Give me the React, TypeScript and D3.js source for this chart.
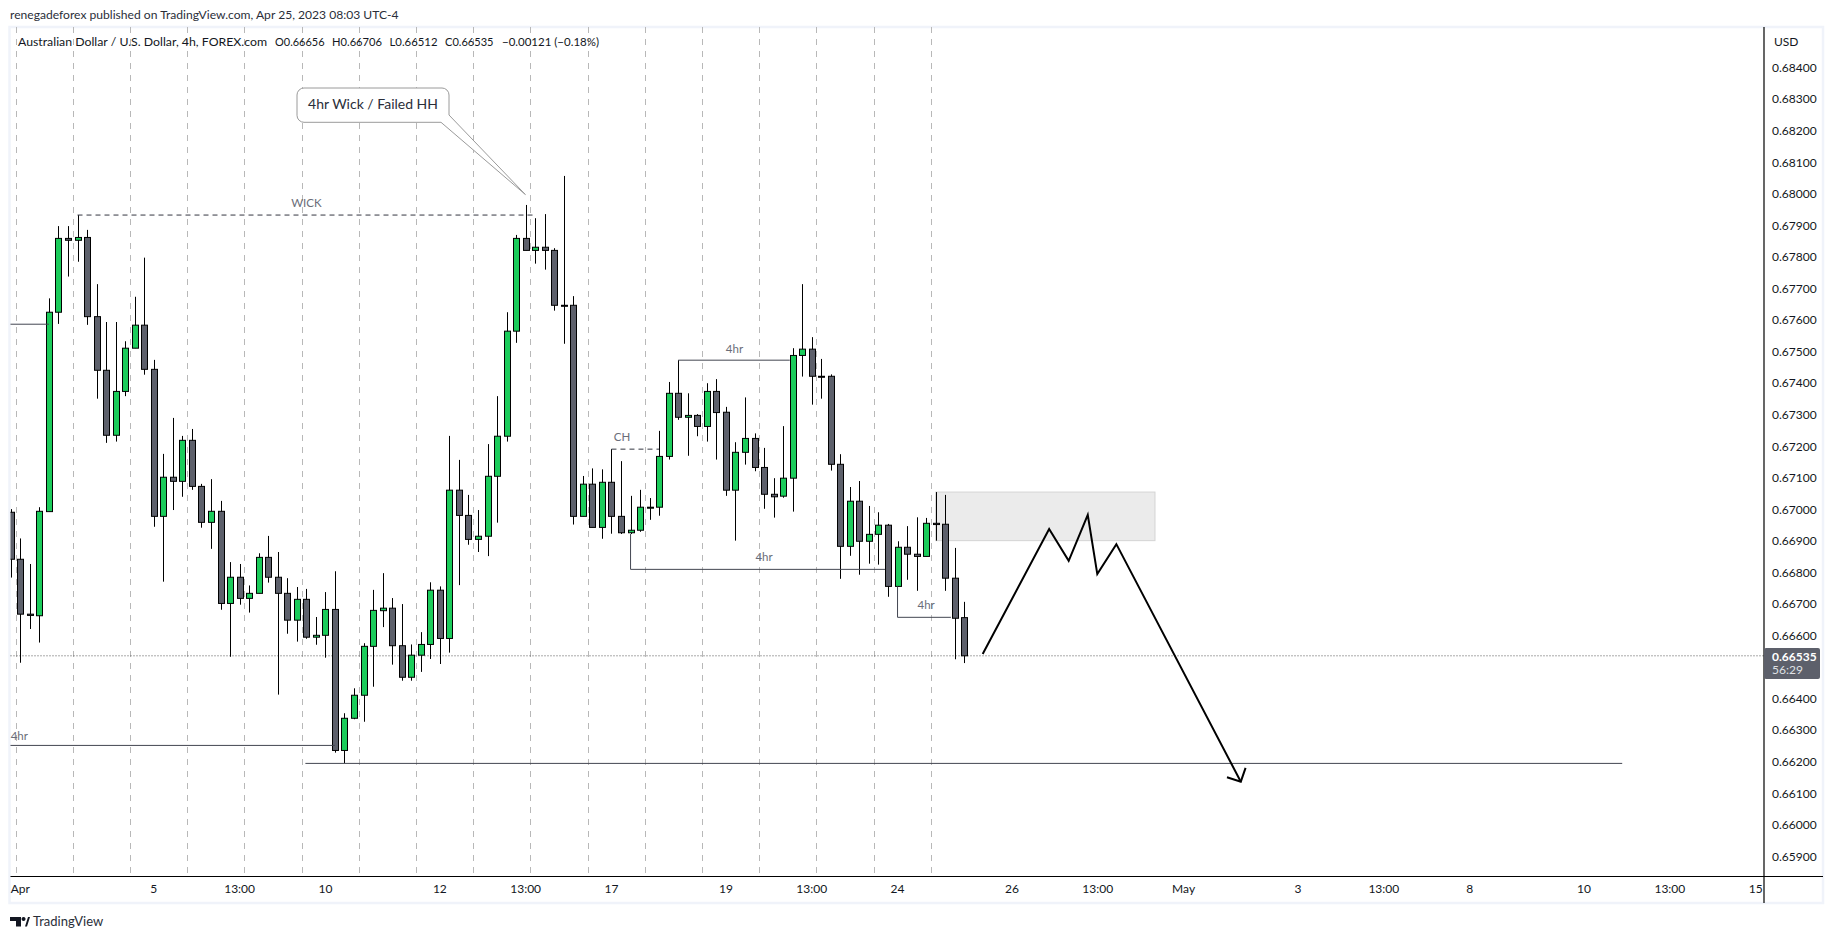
import * as d3 from "d3"

// candle index -1 is the one cut off by the left edge of the plot
const firstIndex = -1
const opens = [
  0.6699,
  0.66841, 0.66667, 0.66662, 0.66992, 0.67624, 0.67858, 0.67852, 0.67861, 0.6761, 0.6744,
  0.67234, 0.67373, 0.6751, 0.67583, 0.67443, 0.66977, 0.67101, 0.67088, 0.67218, 0.67072,
  0.66958, 0.66993, 0.66701, 0.66784, 0.66717, 0.66733, 0.66847, 0.66784, 0.66733, 0.66648,
  0.66714, 0.66594, 0.666, 0.66682, 0.66235, 0.66337, 0.6641, 0.66565, 0.66678, 0.66686,
  0.66567, 0.66467, 0.66537, 0.66571, 0.66743, 0.6659, 0.6706, 0.6698, 0.66904, 0.66914,
  0.67104, 0.67231, 0.67564, 0.67858, 0.6782, 0.6783, 0.6782, 0.67646, 0.67646, 0.66977,
  0.67079, 0.66942, 0.67085, 0.66977, 0.66925, 0.66933, 0.67004, 0.67006, 0.67167, 0.67367,
  0.67291, 0.67297, 0.67262, 0.67373, 0.67307, 0.6706, 0.6718, 0.67224, 0.67132, 0.67047,
  0.67041, 0.67098, 0.67487, 0.67507, 0.67421, 0.67421, 0.67142, 0.66882, 0.67025, 0.66898,
  0.6692, 0.66949, 0.66755, 0.66879, 0.66857, 0.6685, 0.66955, 0.66952, 0.66781, 0.66656,
]
const highs = [
  0.67,
  0.66907, 0.66826, 0.67006, 0.67668, 0.67897, 0.67897, 0.67932, 0.67885, 0.67713, 0.67593,
  0.67593, 0.67532, 0.67673, 0.67797, 0.67473, 0.67175, 0.67289, 0.67232, 0.67254, 0.6708,
  0.67095, 0.67026, 0.66832, 0.66826, 0.66758, 0.6686, 0.66915, 0.66864, 0.66781, 0.66753,
  0.66747, 0.66658, 0.66737, 0.66803, 0.66353, 0.66432, 0.66575, 0.66744, 0.66797, 0.66718,
  0.66699, 0.66571, 0.6661, 0.66768, 0.66755, 0.67232, 0.67156, 0.67045, 0.66997, 0.67206,
  0.67358, 0.67624, 0.67869, 0.67964, 0.67922, 0.67935, 0.67827, 0.68056, 0.67675, 0.67105,
  0.67129, 0.67126, 0.6719, 0.67152, 0.67042, 0.67061, 0.67035, 0.67248, 0.67403, 0.67472,
  0.67367, 0.67301, 0.67399, 0.67412, 0.67324, 0.67212, 0.67354, 0.6724, 0.67194, 0.67098,
  0.67263, 0.6751, 0.67713, 0.67545, 0.67476, 0.67427, 0.67174, 0.6707, 0.67089, 0.6701,
  0.6699, 0.66953, 0.66898, 0.66946, 0.66974, 0.66972, 0.67054, 0.67045, 0.66877, 0.66706,
]
const lows = [
  0.66783,
  0.66513, 0.6662, 0.66577, 0.66992, 0.67587, 0.67737, 0.67784, 0.67584, 0.6735, 0.6721,
  0.67214, 0.67358, 0.6751, 0.67426, 0.66944, 0.6677, 0.66997, 0.67039, 0.67061, 0.66941,
  0.66874, 0.66681, 0.66532, 0.66697, 0.66672, 0.66733, 0.66767, 0.66412, 0.66605, 0.6658,
  0.66589, 0.6657, 0.66529, 0.66228, 0.66195, 0.66334, 0.66326, 0.66437, 0.66626, 0.66507,
  0.66456, 0.66456, 0.66484, 0.66525, 0.66509, 0.66545, 0.66759, 0.66887, 0.66864, 0.66851,
  0.66957, 0.67214, 0.67527, 0.6782, 0.67778, 0.67759, 0.67629, 0.67524, 0.66951, 0.66977,
  0.66942, 0.66906, 0.66922, 0.66921, 0.66921, 0.66928, 0.66966, 0.66979, 0.67157, 0.67283,
  0.67169, 0.67231, 0.67214, 0.67157, 0.67042, 0.669, 0.67141, 0.6712, 0.67001, 0.66973,
  0.67036, 0.66992, 0.6742, 0.67331, 0.6735, 0.67122, 0.66779, 0.66852, 0.66792, 0.66827,
  0.66824, 0.66722, 0.66755, 0.66776, 0.66741, 0.6685, 0.669, 0.66741, 0.66524, 0.66512,
]
const closes = [
  0.66841,
  0.66667, 0.66663, 0.66993, 0.67624, 0.67858, 0.67852, 0.67861, 0.6761, 0.6744, 0.67234,
  0.67373, 0.6751, 0.67583, 0.67443, 0.66977, 0.67101, 0.67088, 0.67218, 0.67072, 0.66958,
  0.66993, 0.66701, 0.66784, 0.66717, 0.66733, 0.66847, 0.66784, 0.66733, 0.66648, 0.66714,
  0.66594, 0.666, 0.66682, 0.66235, 0.66337, 0.6641, 0.66565, 0.66679, 0.66686, 0.66567,
  0.66467, 0.66537, 0.66571, 0.66743, 0.6659, 0.6706, 0.6698, 0.66904, 0.66914, 0.67104,
  0.67231, 0.67564, 0.67858, 0.6782, 0.6783, 0.6782, 0.67646, 0.67645, 0.66977, 0.67079,
  0.66942, 0.67085, 0.66977, 0.66925, 0.66933, 0.67006, 0.67006, 0.67167, 0.67367, 0.67291,
  0.67297, 0.67262, 0.67373, 0.67306, 0.6706, 0.6718, 0.67224, 0.67132, 0.67047, 0.67039,
  0.67098, 0.67487, 0.67507, 0.67421, 0.67419, 0.67142, 0.66882, 0.67025, 0.66898, 0.6692,
  0.66949, 0.66755, 0.66879, 0.66857, 0.6685, 0.66955, 0.66951, 0.66781, 0.66654, 0.66535,
]
const candles = opens.map((open, k) => ({
  index: firstIndex + k,
  open,
  high: highs[k],
  low: lows[k],
  close: closes[k],
}))
const lastPrice = 0.66535

// the 0.665 tick sits behind the last price tag, so it is left out
const priceTicks = d3
  .range(659, 685)
  .filter((p) => p !== 665)
  .map((p) => p / 1000)
const timeTicks: [number, string][] = [
  [0, "Apr"], [14, "5"], [23, "13:00"], [32, "10"], [44, "12"], [53, "13:00"], [62, "17"], [74, "19"], [83, "13:00"],
  [92, "24"], [104, "26"], [113, "13:00"], [122, "May"], [134, "3"], [143, "13:00"], [152, "8"], [164, "10"],
  [173, "13:00"], [182, "15"],
]
const gridIndexes = d3.range(0, 17).map((k) => -0.5 + k * 6)
// legend pieces: [left, width, text]
const legendParts: [number, number, string][] = [
  [18, 249, "Australian Dollar / U.S. Dollar, 4h, FOREX.com"],
  [275, 49.5, "O0.66656"],
  [332, 50, "H0.66706"],
  [389.5, 48, "L0.66512"],
  [445, 48.5, "C0.66535"],
  [502, 97, "−0.00121 (−0.18%)"],
]

// drawn levels: [from index, to index, price]
const solidLevels: [number, number, number][] = [
  [-1.1, 3, 0.67586],
  [-1.1, 33, 0.66251],
  [29.9, 168, 0.66194],
  [69, 80.7, 0.67472],
  [64, 90.7, 0.66809],
  [92, 97.6, 0.66657],
]
const dashedLevels: [number, number, number][] = [
  [6, 53.9, 0.67932],
  [62, 67, 0.6719],
]
const levelStems: [number, number, number][] = [
  [64, 0.66921, 0.66809],
  [92, 0.66755, 0.66657],
]
const levelLabels: [number, number, string][] = [
  [-0.1, 0.66278, "4hr"],
  [30, 0.67966, "WICK"],
  [63.1, 0.67225, "CH"],
  [74.9, 0.67503, "4hr"],
  [78, 0.66845, "4hr"],
  [95, 0.66691, "4hr"],
]
const zone = { from: 96, to: 119, top: 0.67054, bottom: 0.669 }
const projection: [number, number][] = [
  [100.93, 0.66541], [107.9, 0.66937], [109.95, 0.66836], [111.95, 0.66982], [112.95, 0.66794], [114.95, 0.66889],
  [128, 0.66136],
]
const arrowHead: [number, number][] = [
  [126.55, 0.6615], [128, 0.66136], [128.5, 0.6618],
]
const callout = { tipIndex: 53, tipPrice: 0.67997, text: "4hr Wick / Failed HH" }

const W = 1834
const H = 939
const plotLeft = 10.5
const plotRight = 1764
const plotTop = 27
const plotBottom = 876.5
const font = "Lato, 'Noto Sans', sans-serif"

const x = d3.scaleLinear().domain([0, 182]).range([20.3, 1755.7])
const y = d3.scaleLinear().domain([0.659, 0.684]).range([856.15, 67.4])
const line = d3
  .line<[number, number]>()
  .x((d) => x(d[0]))
  .y((d) => y(d[1]))

export default function App() {
  const tipX = x(callout.tipIndex) - 0.3
  const tipY = y(callout.tipPrice)
  return (
    <svg
      width={W}
      height={H}
      viewBox={`0 0 ${W} ${H}`}
      style={{ position: "absolute", left: 0, top: 0, background: "#fff" }}
      fontFamily={font}
    >
      <defs>
        <clipPath id="plot">
          <rect x={plotLeft} y={plotTop} width={plotRight - plotLeft} height={plotBottom - plotTop} />
        </clipPath>
      </defs>

      {/* frame */}
      <rect x={9.5} y={27} width={1813.5} height={876} fill="none" stroke="#f0f3fa" strokeWidth={2.5} />

      <text x={10} y={19} fontSize={12.1} fill="#2a2e39">
        renegadeforex published on TradingView.com, Apr 25, 2023 08:03 UTC-4
      </text>

      {/* time grid */}
      {gridIndexes.map((g) => (
        <line
          key={g}
          x1={Math.round(x(g)) + 0.5}
          x2={Math.round(x(g)) + 0.5}
          y1={plotTop}
          y2={plotBottom}
          stroke="#b8b8b8"
          strokeWidth={1}
          strokeDasharray="6 6"
        />
      ))}

      {legendParts.map(([px, w, t]) => (
        <text key={t} x={px} y={46} fontSize={12} fill="#131722" textLength={w} lengthAdjust="spacingAndGlyphs">
          {t}
        </text>
      ))}

      {/* supply zone */}
      <rect
        x={x(zone.from)}
        y={y(zone.top)}
        width={x(zone.to) - x(zone.from)}
        height={y(zone.bottom) - y(zone.top)}
        fill="#ebebeb"
        stroke="#d4d4d4"
      />

      {/* last price line */}
      <line
        x1={plotLeft}
        x2={plotRight}
        y1={y(lastPrice)}
        y2={y(lastPrice)}
        stroke="#555"
        strokeDasharray="1 2"
      />

      {/* candles */}
      <g clipPath="url(#plot)">
        {candles.map((c) => {
          const up = c.close >= c.open
          const top = y(Math.max(c.open, c.close))
          const bottom = y(Math.min(c.open, c.close))
          const cx = Math.round(x(c.index)) + 0.5
          return (
            <g key={c.index}>
              <line x1={cx} x2={cx} y1={y(c.high)} y2={y(c.low)} stroke="#000" strokeWidth={1} />
              <rect
                x={cx - 3}
                y={top}
                width={6}
                height={Math.max(bottom - top, 1)}
                fill={up ? "#1bcc5b" : "#5d606b"}
                stroke="#000"
                strokeWidth={1}
              />
            </g>
          )
        })}

        {/* levels */}
        {solidLevels.map(([a, b, p], k) => (
          <line key={k} x1={x(a)} x2={x(b)} y1={y(p)} y2={y(p)} stroke="#434651" strokeWidth={1} />
        ))}
        {dashedLevels.map(([a, b, p], k) => (
          <line
            key={k}
            x1={x(a)}
            x2={x(b)}
            y1={y(p)}
            y2={y(p)}
            stroke="#333640"
            strokeWidth={1}
            strokeDasharray="5 4"
          />
        ))}
        {levelStems.map(([i, a, b], k) => (
          <line key={k} x1={x(i)} x2={x(i)} y1={y(a)} y2={y(b)} stroke="#434651" strokeWidth={1} />
        ))}
      </g>

      {levelLabels.map(([i, p, t], k) => (
        <text key={k} x={x(i)} y={y(p)} textAnchor="middle" dominantBaseline="middle" fontSize={11.5} fill="#6a6d78">
          {t}
        </text>
      ))}

      {/* projection */}
      <path d={line(projection) ?? ""} fill="none" stroke="#000" strokeWidth={2} />
      <path d={line(arrowHead) ?? ""} fill="none" stroke="#000" strokeWidth={2} />

      {/* callout */}
      <path
        d={`M304 88 H442 a7 7 0 0 1 7 7 V115 L${tipX} ${tipY} L441 122.3 H304 a7 7 0 0 1 -7 -7 V95 a7 7 0 0 1 7 -7 Z`}
        fill="#fff"
        stroke="#9a9a9a"
        strokeWidth={1}
      />
      <text x={373} y={105} textAnchor="middle" dominantBaseline="middle" fontSize={14} fill="#2a2e39">
        {callout.text}
      </text>

      {/* axes */}
      <line x1={plotRight} x2={plotRight} y1={plotTop} y2={903} stroke="#000" strokeWidth={1.2} />
      <line x1={plotLeft} x2={1823} y1={plotBottom} y2={plotBottom} stroke="#000" strokeWidth={1.2} />
      <text x={1774} y={46} fontSize={12} fill="#131722">
        USD
      </text>
      {priceTicks.map((p) => (
        <text key={p} x={1772} y={y(p) + 1.5} dominantBaseline="middle" fontSize={12} fill="#131722">
          {p.toFixed(5)}
        </text>
      ))}
      {timeTicks.map(([i, t], k) => (
        <text key={k} x={x(i)} y={890} textAnchor="middle" dominantBaseline="middle" fontSize={12} fill="#131722">
          {t}
        </text>
      ))}
      <rect x={plotRight} y={648} width={56} height={31} rx={2} fill="#5d606b" />
      <text x={1772} y={657.5} dominantBaseline="middle" fontSize={12} fontWeight={700} fill="#fff">
        {lastPrice.toFixed(5)}
      </text>
      <text x={1772} y={671} dominantBaseline="middle" fontSize={12} fill="#dfe0e4">
        56:29
      </text>

      {/* footer */}
      <path d="M10 917 H21 V926.5 H16 V921 H10 Z M23.5 917 a2 2 0 1 0 0.1 0 Z M25 926.5 L28 917 H30 L27 926.5 Z" fill="#131722" />
      <text x={33} y={926} fontSize={13} fill="#2a2e39">
        TradingView
      </text>
    </svg>
  )
}
